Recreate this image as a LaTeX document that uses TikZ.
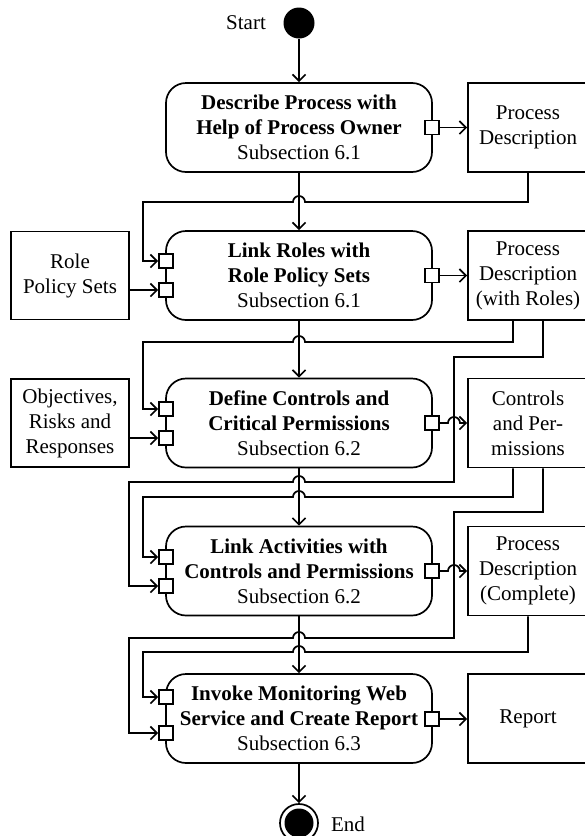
\documentclass[tikz,border=0pt]{standalone}
\usepackage{fontspec}
\setmainfont{Liberation Serif}
\usetikzlibrary{arrows.meta}
\begin{document}
\begin{tikzpicture}[x=1pt,y=-1pt,line width=1.7pt,
  font=\fontsize{21}{25}\selectfont,
  action/.style={draw,rounded corners=20pt,minimum width=266pt,minimum height=89pt,align=center,inner sep=0pt},
  object/.style={draw,minimum width=120pt,minimum height=89pt,align=center,inner sep=0pt},
  inobj/.style={draw,minimum width=118pt,minimum height=88pt,align=center,inner sep=0pt},
  portbox/.style={draw,fill=white,minimum size=14pt,inner sep=0pt},
  flow/.style={-{Straight Barb[length=6.5pt,width=13pt]}},
  hop/.style={radius=6pt},
  ]
\useasboundingbox (0,0) rectangle (585,836);

% initial and final nodes
\node[circle,fill=black,minimum size=31pt,inner sep=0pt] (start) at (299,23) {};
\node (startlbl) at (246,23) {Start};
\node[circle,draw,fill=white,minimum size=38pt,inner sep=0pt] (end) at (299,823) {};
\node[circle,fill=black,minimum size=29pt,inner sep=0pt] (endcore) at (299,823) {};
\node (endlbl) at (348,824) {End};

% actions
\node[action] (a1) at (299,127.5) {\textbf{Describe Process with}\\\textbf{Help of Process Owner}\\Subsection 6.1};
\node[action] (a2) at (299,275.5) {\textbf{Link Roles with}\\\textbf{Role Policy Sets}\\Subsection 6.1};
\node[action] (a3) at (299,423) {\textbf{Define Controls and}\\\textbf{Critical Permissions}\\Subsection 6.2};
\node[action] (a4) at (299,571) {\textbf{Link Activities with}\\\textbf{Controls and Permissions}\\Subsection 6.2};
\node[action] (a5) at (299,718.5) {\textbf{Invoke Monitoring Web}\\\textbf{Service and Create Report}\\Subsection 6.3};

% objects
\node[object] (o1) at (528,127.5) {Process\\Description};
\node[object] (o2) at (528,275.5) {Process\\Description\\(with Roles)};
\node[object] (o3) at (528,423) {Controls\\and Per-\\missions};
\node[object] (o4) at (528,571) {Process\\Description\\(Complete)};
\node[object] (o5) at (528,718.5) {Report};
\node[inobj] (l2) at (70,275.5) {Role\\Policy Sets};
\node[inobj] (l3) at (70,423) {Objectives,\\Risks and\\Responses};

% pins
\node[portbox] (a1out) at (432,127.5) {};
\node[portbox] (a2in1) at (166,261) {};
\node[portbox] (a2in2) at (166,290) {};
\node[portbox] (a2out) at (432,275.5) {};
\node[portbox] (a3in1) at (166,409) {};
\node[portbox] (a3in2) at (166,438) {};
\node[portbox] (a3out) at (432,423) {};
\node[portbox] (a4in1) at (166,557) {};
\node[portbox] (a4in2) at (166,586) {};
\node[portbox] (a4out) at (432,571) {};
\node[portbox] (a5in1) at (166,697) {};
\node[portbox] (a5in2) at (166,733) {};
\node[portbox] (a5out) at (432,719) {};

% control flow
\draw[flow] (start) -- (a1.north);
\draw[flow] (a1.south) -- (a2.north);
\draw[flow] (a2.south) -- (a3.north);
\draw[flow] (a3.south) -- (a4.north);
\draw[flow] (a4.south) -- (a5.north);
\draw[flow] (a5.south) -- (end.north);

% outputs
\draw[flow] (a1out.east) -- (o1.west |- a1out);
\draw[flow] (a2out.east) -- (o2.west |- a2out);
\draw[flow] (a3out.east) -- (448,423) arc[hop,start angle=180,end angle=0] -- (o3.west |- a3out);
\draw[flow] (a4out.east) -- (448,571) arc[hop,start angle=180,end angle=0] -- (o4.west |- a4out);
\draw[flow] (a5out.east) -- (o5.west |- a5out);

% external inputs
\draw[flow] (l2.east |- a2in2) -- (a2in2.west);
\draw[flow] (l3.east |- a3in2) -- (a3in2.west);

% object flows back into the actions
\draw[flow] (o1.south) -- (528,202) -- (305,202) arc[hop,start angle=0,end angle=180]
  -- (143,202) -- (143,261) -- (a2in1.west);
\draw[flow] ([xshift=-15pt]o2.south) -- (513,342) -- (305,342) arc[hop,start angle=0,end angle=180]
  -- (143,342) -- (143,409) -- (a3in1.west);
\draw[flow] ([xshift=15pt]o2.south) -- (543,357) -- (454,357) -- (454,482)
  -- (305,482) arc[hop,start angle=0,end angle=180] -- (129,482) -- (129,586) -- (a4in2.west);
\draw[flow] ([xshift=-15pt]o3.south) -- (513,497) -- (305,497) arc[hop,start angle=0,end angle=180]
  -- (143,497) -- (143,557) -- (a4in1.west);
\draw[flow] ([xshift=15pt]o3.south) -- (543,512) -- (454,512) -- (454,638)
  -- (305,638) arc[hop,start angle=0,end angle=180] -- (129,638) -- (129,733) -- (a5in2.west);
\draw[flow] (o4.south) -- (528,652) -- (305,652) arc[hop,start angle=0,end angle=180]
  -- (143,652) -- (143,697) -- (a5in1.west);
\end{tikzpicture}
\end{document}
